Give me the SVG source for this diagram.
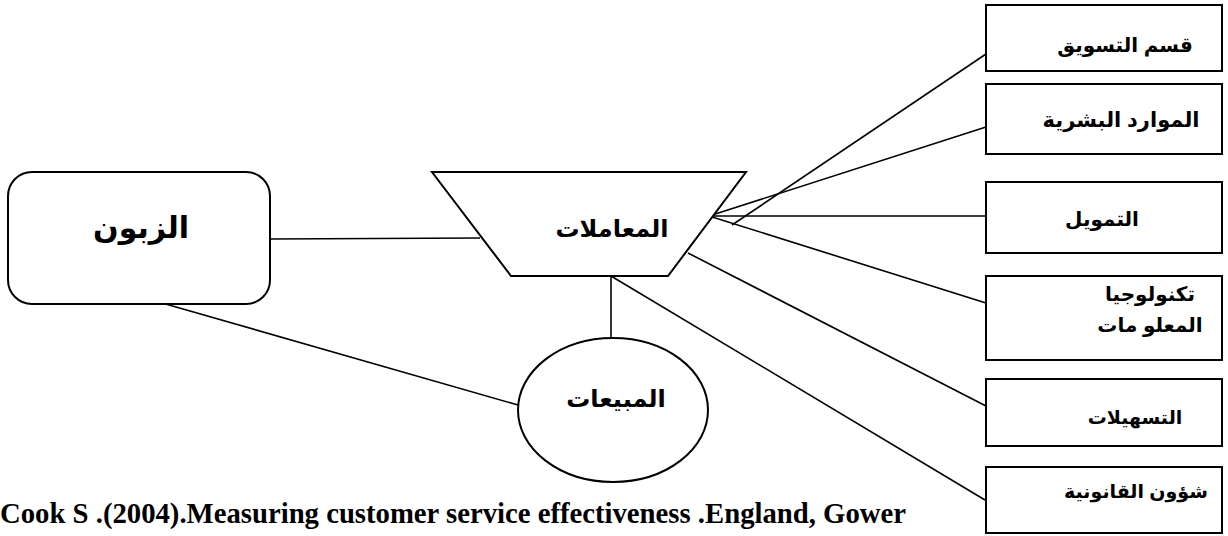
<svg xmlns="http://www.w3.org/2000/svg" width="1228" height="536" viewBox="0 0 1228 536">
<style>
.shape{fill:#fff;stroke:#000;stroke-width:2}
.ln{stroke:#000;stroke-width:1.6;fill:none}
.ar{font-family:"Liberation Sans","DejaVu Sans",sans-serif;font-weight:bold;fill:#000;text-anchor:middle}
.cite{font-family:"Liberation Serif","Times New Roman",serif;font-weight:bold;fill:#000}
</style>
<rect width="1228" height="536" fill="#fff"/>
<g id="connectors">
<line class="ln" x1="270" y1="239" x2="480" y2="238"/>
<line class="ln" x1="162" y1="303" x2="518" y2="405"/>
<line class="ln" x1="611" y1="276" x2="611" y2="338"/>
<line class="ln" x1="732" y1="225" x2="986" y2="54"/>
<line class="ln" x1="709" y1="216" x2="986" y2="127"/>
<line class="ln" x1="709" y1="216" x2="986" y2="216"/>
<line class="ln" x1="709" y1="216" x2="986" y2="303"/>
<line class="ln" x1="688" y1="253" x2="986" y2="406"/>
<line class="ln" x1="611" y1="276" x2="985" y2="500"/>
</g>
<g id="customer">
<rect class="shape" x="8" y="172" width="262" height="132" rx="24" ry="24"/>
<text class="ar" x="141" y="238" font-size="30" direction="rtl">الزبون</text>
</g>
<g id="transactions">
<polygon class="shape" points="432,172 746,172 668,276 511,276"/>
<text class="ar" x="612" y="237" font-size="24" direction="rtl">المعاملات</text>
</g>
<g id="sales">
<ellipse class="shape" cx="613" cy="410" rx="95" ry="72"/>
<text class="ar" x="616" y="407" font-size="24" direction="rtl">المبيعات</text>
</g>
<g id="marketing">
<rect class="shape" x="986" y="5" width="236" height="66"/>
<text class="ar" x="1125" y="52" font-size="20" direction="rtl">قسم التسويق</text>
</g>
<g id="hr">
<rect class="shape" x="986" y="84" width="236" height="70"/>
<text class="ar" x="1121" y="127" font-size="21" direction="rtl">الموارد البشرية</text>
</g>
<g id="finance">
<rect class="shape" x="986" y="182" width="236" height="71"/>
<text class="ar" x="1102" y="226" font-size="20" direction="rtl">التمويل</text>
</g>
<g id="it">
<rect class="shape" x="986" y="276" width="236" height="84"/>
<text class="ar" x="1150" y="301" font-size="20" direction="rtl">تكنولوجيا</text>
<text class="ar" x="1150" y="332" font-size="20" direction="rtl">المعلو مات</text>
</g>
<g id="facilities">
<rect class="shape" x="986" y="379" width="236" height="67"/>
<text class="ar" x="1135" y="424" font-size="19" direction="rtl">التسهيلات</text>
</g>
<g id="legal">
<rect class="shape" x="986" y="467" width="236" height="66"/>
<text class="ar" x="1136" y="498" font-size="19" direction="rtl">شؤون القانونية</text>
</g>
<text class="cite" x="0" y="523" font-size="30" textLength="906" lengthAdjust="spacingAndGlyphs">Cook S .(2004).Measuring customer service effectiveness .England, Gower</text>
</svg>
